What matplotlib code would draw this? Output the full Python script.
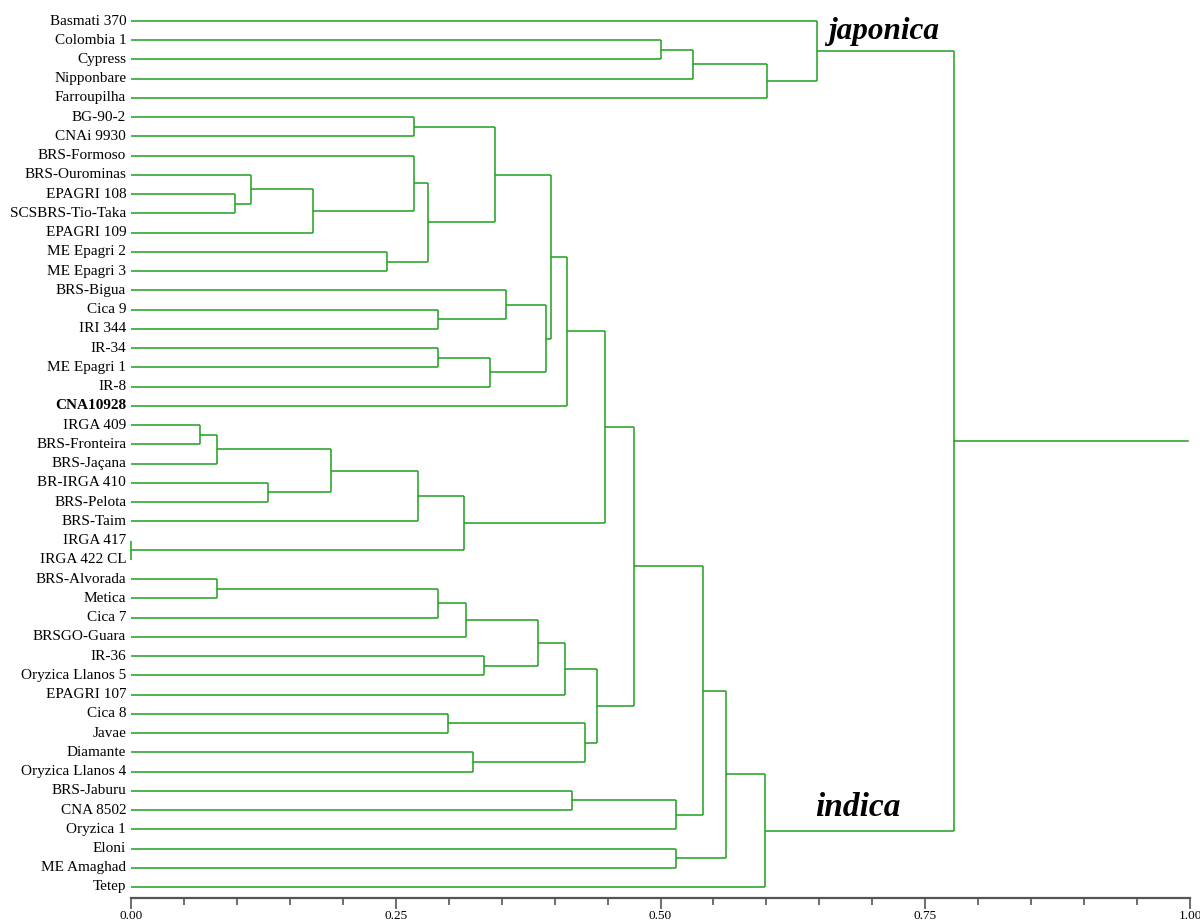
import matplotlib
matplotlib.use("Agg")
import matplotlib.pyplot as plt
from matplotlib.ticker import MultipleLocator, FormatStrFormatter

# Cultivar names, top to bottom in dendrogram order
cultivars = [
    "Basmati 370", "Colombia 1", "Cypress", "Nipponbare", "Farroupilha",
    "BG-90-2", "CNAi 9930", "BRS-Formoso", "BRS-Ourominas", "EPAGRI 108",
    "SCSBRS-Tio-Taka", "EPAGRI 109", "ME Epagri 2", "ME Epagri 3", "BRS-Bigua",
    "Cica 9", "IRI 344", "IR-34", "ME Epagri 1", "IR-8",
    "CNA10928", "IRGA 409", "BRS-Fronteira", "BRS-Jaçana", "BR-IRGA 410",
    "BRS-Pelota", "BRS-Taim", "IRGA 417", "IRGA 422 CL", "BRS-Alvorada",
    "Metica", "Cica 7", "BRSGO-Guara", "IR-36", "Oryzica Llanos 5",
    "EPAGRI 107", "Cica 8", "Javae", "Diamante", "Oryzica Llanos 4",
    "BRS-Jaburu", "CNA 8502", "Oryzica 1", "Eloni", "ME Amaghad", "Tetep",
]
highlight = "CNA10928"

# Linkage: each row joins two nodes (leaf index < 46, or 46 + earlier row)
merge_left = [1, 46, 47, 0, 5, 9, 8, 52, 7, 12, 54, 50, 15, 14, 17, 60, 59, 57,
              63, 21, 65, 24, 66, 68, 27, 69, 64, 29, 73, 74, 33, 75, 77, 36,
              38, 79, 78, 72, 40, 84, 83, 43, 86, 88, 49]
merge_right = [2, 3, 4, 48, 6, 10, 51, 11, 53, 13, 55, 56, 16, 58, 18, 19, 61, 62,
               20, 22, 23, 25, 67, 26, 28, 70, 71, 30, 31, 32, 34, 76, 35, 37,
               39, 80, 81, 82, 41, 42, 85, 44, 87, 45, 89]
merge_height = [0.500, 0.531, 0.601, 0.648, 0.267, 0.098, 0.113, 0.172, 0.267,
                0.242, 0.280, 0.344, 0.290, 0.354, 0.290, 0.339, 0.392, 0.397,
                0.412, 0.065, 0.081, 0.129, 0.189, 0.271, 0.000, 0.314, 0.448,
                0.081, 0.290, 0.316, 0.333, 0.384, 0.410, 0.299, 0.323, 0.429,
                0.440, 0.475, 0.4165, 0.515, 0.540, 0.515, 0.562, 0.599, 0.777]

group_labels = ["japonica", "indica"]

line_color = "#25a325"
lw = 1.15

fig = plt.figure(figsize=(12, 9.23), dpi=100)
ax = fig.add_axes([131 / 1200, 1 - 898 / 923, 1059 / 1200, 888 / 923])

n = len(cultivars)
node_x = {i: 0.0 for i in range(n)}
node_y = {i: float(i) for i in range(n)}

for k, (a, b, h) in enumerate(zip(merge_left, merge_right, merge_height)):
    node = n + k
    ya, yb = node_y[a], node_y[b]
    ax.plot([node_x[a], h], [ya, ya], color=line_color, lw=lw, clip_on=False,
            solid_capstyle="butt")
    ax.plot([node_x[b], h], [yb, yb], color=line_color, lw=lw, clip_on=False,
            solid_capstyle="butt")
    ax.plot([h, h], [ya, yb], color=line_color, lw=lw, clip_on=False,
            solid_capstyle="butt")
    node_x[node] = h
    node_y[node] = (ya + yb) / 2

# Root stub running to the right edge
root = n + len(merge_height) - 1
ax.plot([node_x[root], 0.998], [node_y[root], node_y[root]], color=line_color,
        lw=lw, clip_on=False)

# Cultivar labels
for i, name in enumerate(cultivars):
    ax.text(-0.0045, i, name, ha="right", va="center", fontsize=11,
            family="Liberation Serif",
            fontweight="bold" if name == highlight else "normal")

# Group names
ax.text(0.658, 0.55, group_labels[0], fontsize=22.5, family="Liberation Serif",
        style="italic", fontweight="bold", ha="left", va="center")
ax.text(0.646, 40.85, group_labels[1], fontsize=24, family="Liberation Serif",
        style="italic", fontweight="bold", ha="left", va="center")

ax.set_xlim(0, 1.0)
ax.set_ylim(n - 1 + 11 / 19.244, -11 / 19.244)

for side in ("left", "right", "top"):
    ax.spines[side].set_visible(False)
ax.spines["bottom"].set_color("#555555")
ax.spines["bottom"].set_linewidth(1.6)
ax.set_yticks([])
ax.xaxis.set_major_locator(MultipleLocator(0.25))
ax.xaxis.set_minor_locator(MultipleLocator(0.05))
ax.xaxis.set_major_formatter(FormatStrFormatter("%.2f"))
ax.tick_params(axis="x", which="major", length=8, width=1.2, color="#555555",
               pad=0.5, labelsize=9.5)
ax.tick_params(axis="x", which="minor", length=5, width=1.2, color="#555555")
for lab in ax.get_xticklabels():
    lab.set_family("Liberation Serif")

fig.savefig("out.png", dpi=100, facecolor="white")
